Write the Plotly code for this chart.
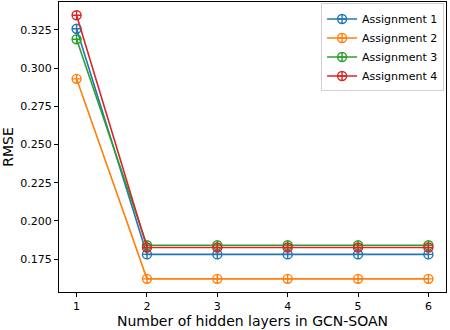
import plotly.graph_objects as go

# hidden layers in GCN-SOAN
layers = [1, 2, 3, 4, 5, 6]

# RMSE per assignment
assignment_1 = [0.3258, 0.1781, 0.1781, 0.1781, 0.1781, 0.1781]
assignment_2 = [0.2930, 0.1621, 0.1621, 0.1621, 0.1621, 0.1621]
assignment_3 = [0.3189, 0.1841, 0.1841, 0.1841, 0.1841, 0.1841]
assignment_4 = [0.3346, 0.1826, 0.1826, 0.1826, 0.1826, 0.1826]

names = ["Assignment 1", "Assignment 2", "Assignment 3", "Assignment 4"]
colors = ["#1f77b4", "#ff7f0e", "#2ca02c", "#d62728"]
series = [assignment_1, assignment_2, assignment_3, assignment_4]

fig = go.Figure()
for name, col, vals in zip(names, colors, series):
    fig.add_trace(go.Scatter(
        x=layers, y=vals, name=name, mode="lines+markers",
        line=dict(color=col, width=1.6),
        marker=dict(symbol="circle-cross-open", size=9, color=col, line=dict(width=1.4, color=col)),
    ))

axis_style = dict(showline=True, linecolor="black", linewidth=1, mirror=True,
                  ticks="outside", ticklen=4, tickcolor="black", showgrid=False,
                  zeroline=False, tickfont=dict(size=11, color="black"))

fig.update_layout(
    width=450, height=330,
    margin=dict(l=59, r=4, t=2, b=38),
    plot_bgcolor="white", paper_bgcolor="white",
    font=dict(family="DejaVu Sans", color="black"),
    xaxis=dict(range=[0.75, 6.25], tickvals=layers,
               title=dict(text="Number of hidden layers in GCN-SOAN", font=dict(size=14), standoff=2),
               **axis_style),
    yaxis=dict(range=[0.1535, 0.3433], tickvals=[0.175, 0.2, 0.225, 0.25, 0.275, 0.3, 0.325],
               tickformat=".3f",
               title=dict(text="RMSE", font=dict(size=14), standoff=6),
               **axis_style),
    legend=dict(x=0.995, y=0.995, xanchor="right", yanchor="top",
                bordercolor="#d0d0d0", borderwidth=1, bgcolor="white",
                font=dict(size=11), tracegroupgap=0, itemwidth=30),
)

fig.write_html("out.html", config={"displayModeBar": False},
               post_script="document.body.style.margin='0';")
